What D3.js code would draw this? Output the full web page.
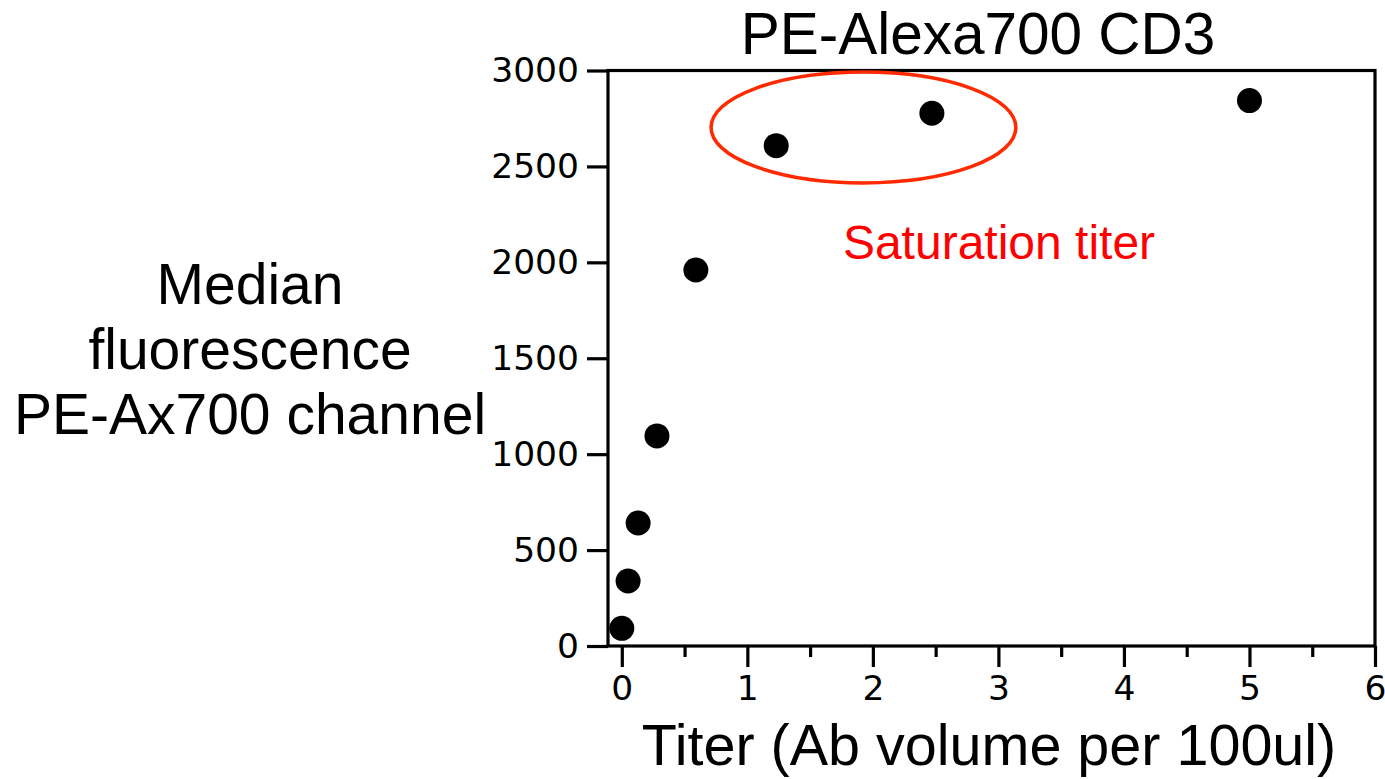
<!DOCTYPE html>
<html>
<head>
<meta charset="utf-8">
<script src="https://cdn.jsdelivr.net/npm/d3@7"></script>
<style>
  body { margin: 0; background: #fff; }
  svg { display: block; }
  .tick text { font-family: "DejaVu Sans", sans-serif; font-size: 34.5px; fill: #000; }
  .big { font-family: "Liberation Sans", Arial, sans-serif; fill: #000; }
</style>
</head>
<body>
<div id="chart"></div>
<script>
// titer (ul per 100ul) vs median fluorescence
const titers = [0.0, 0.05, 0.13, 0.28, 0.59, 1.23, 2.47, 5.0];
const medians = [92, 339, 641, 1095, 1960, 2608, 2777, 2843];

const xTicks = [0, 1, 2, 3, 4, 5, 6];
const xMinorTicks = [0.5, 1.5, 2.5, 3.5, 4.5, 5.5];
const yTicks = [0, 500, 1000, 1500, 2000, 2500, 3000];

// saturation ellipse in data units: [cx, cy, rx, ry]
const satEllipse = [1.925, 2703, 1.214, 289];

const width = 1385;
const height = 779;

const svg = d3.select("#chart")
    .append("svg")
    .attr("width", width)
    .attr("height", height);

const x = d3.scaleLinear().domain([-0.11, 6]).range([608, 1375]);
const y = d3.scaleLinear().domain([0, 3000]).range([646, 70.5]);

// minor x ticks
svg.append("g")
    .attr("transform", `translate(0,${y(0)})`)
    .call(d3.axisBottom(x).tickValues(xMinorTicks).tickSize(11).tickSizeOuter(0).tickFormat(""))
    .call(g => g.select(".domain").remove())
    .call(g => g.selectAll("line").attr("stroke", "#000").attr("stroke-width", 3.2));

svg.append("g")
    .attr("transform", `translate(0,${y(0)})`)
    .call(d3.axisBottom(x).tickValues(xTicks).tickSize(21).tickSizeOuter(0).tickPadding(9).tickFormat(d3.format("d")))
    .call(g => g.select(".domain").remove())
    .call(g => g.selectAll("line").attr("stroke", "#000").attr("stroke-width", 3.2));

svg.append("g")
    .attr("transform", `translate(${x.range()[0]},0)`)
    .call(d3.axisLeft(y).tickValues(yTicks).tickSize(21).tickSizeOuter(0).tickPadding(8).tickFormat(d3.format("d")))
    .call(g => g.select(".domain").remove())
    .call(g => g.selectAll("line").attr("stroke", "#000").attr("stroke-width", 3.2));

// frame
svg.append("rect")
    .attr("x", x.range()[0])
    .attr("y", y.range()[1])
    .attr("width", x.range()[1] - x.range()[0])
    .attr("height", y.range()[0] - y.range()[1])
    .attr("fill", "none")
    .attr("stroke", "#000")
    .attr("stroke-width", 3.2);

svg.selectAll("circle.pt")
    .data(titers.map((t, i) => [t, medians[i]]))
    .join("circle")
    .attr("class", "pt")
    .attr("cx", d => x(d[0]))
    .attr("cy", d => y(d[1]))
    .attr("r", 12.5)
    .attr("fill", "#000");

// annotation
svg.append("ellipse")
    .attr("cx", x(satEllipse[0]))
    .attr("cy", y(satEllipse[1]))
    .attr("rx", x(satEllipse[2]) - x(0))
    .attr("ry", y(0) - y(satEllipse[3]))
    .attr("fill", "none")
    .attr("stroke", "#ff2a00")
    .attr("stroke-width", 3.5);

svg.append("text")
    .attr("class", "big")
    .attr("x", 999).attr("y", 259)
    .attr("text-anchor", "middle")
    .attr("font-size", 48)
    .style("fill", "#ff0000")
    .text("Saturation titer");

svg.append("text")
    .attr("class", "big")
    .attr("x", 978).attr("y", 54)
    .attr("text-anchor", "middle")
    .attr("font-size", 58.5)
    .text("PE-Alexa700 CD3");

svg.append("text")
    .attr("class", "big")
    .attr("x", 989).attr("y", 765)
    .attr("text-anchor", "middle")
    .attr("font-size", 57.5)
    .text("Titer (Ab volume per 100ul)");

const yLabel = ["Median", "fluorescence", "PE-Ax700 channel"];
svg.append("text")
    .attr("class", "big")
    .attr("text-anchor", "middle")
    .attr("font-size", 57)
    .selectAll("tspan")
    .data(yLabel)
    .join("tspan")
    .attr("x", 250)
    .attr("y", (d, i) => 304 + i * 65)
    .text(d => d);
</script>
</body>
</html>
